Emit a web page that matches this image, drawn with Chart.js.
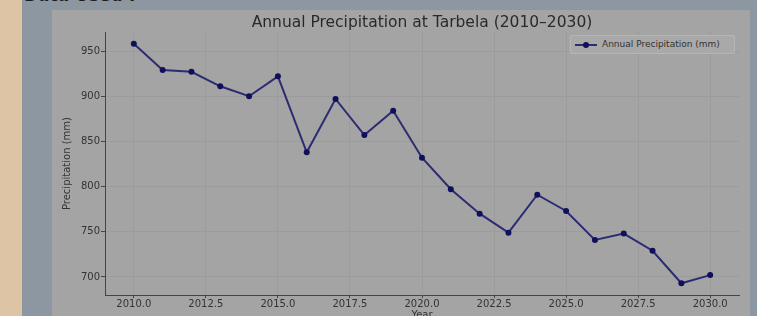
<!DOCTYPE html>
<html>
<head>
<meta charset="utf-8">
<script src="https://cdn.jsdelivr.net/npm/chart.js@4"></script>
<style>
  html, body { margin: 0; padding: 0; }
  body {
    width: 757px; height: 316px; overflow: hidden; position: relative;
    background: #8d97a1; font-family: "DejaVu Sans", sans-serif;
  }
  .beige { position: absolute; left: 0; top: 0; width: 22px; height: 316px; background: #dcc4a5; }
  .cutText { position: absolute; left: 24px; top: -15px; font-size: 17px; font-weight: bold; color: #1c1c1c; }
  .figure { position: absolute; left: 52px; top: 10px; width: 698px; height: 306px; background: #a4a4a4; }
  #wrap { position: absolute; left: 52px; top: 10px; width: 698px; height: 322px; }
  .legend {
    position: absolute; left: 570px; top: 35px; width: 163px; height: 17px;
    background: #a9a9a9; border: 1px solid #b6b6b6; border-radius: 2px;
    font-size: 9px; color: #333; line-height: 17px;
  }
  .legend .sample { position: absolute; left: 4px; top: 8px; width: 22px; height: 2px; background: #2c2c70; }
  .legend .dot { position: absolute; left: 12px; top: 6px; width: 6px; height: 6px; border-radius: 50%; background: #10105a; }
  .legend .label { position: absolute; left: 31px; top: 0; white-space: nowrap; }
</style>
</head>
<body>
<div class="beige"></div>
<div class="cutText">Data Used :</div>
<div class="figure"></div>
<div id="wrap"><canvas id="precipChart" width="698" height="322"></canvas></div>
<div class="legend">
  <div class="sample"></div><div class="dot"></div>
  <div class="label">Annual Precipitation (mm)</div>
</div>
<script>
// datos
const years = [2010, 2011, 2012, 2013, 2014, 2015, 2016, 2017, 2018, 2019, 2020,
  2021, 2022, 2023, 2024, 2025, 2026, 2027, 2028, 2029, 2030];
const precipitation = [958, 929, 927, 911, 900, 922, 838, 897, 857, 884, 832,
  797, 770, 749, 791, 773, 741, 748, 729, 693, 702];
const xTicks = [2010, 2012.5, 2015, 2017.5, 2020, 2022.5, 2025, 2027.5, 2030];
const yTicks = [700, 750, 800, 850, 900, 950];

const textColor = '#333';
const gridColor = 'rgba(150, 150, 150, 0.55)';

const points = years.map((y, i) => ({ x: y, y: precipitation[i] }));

new Chart(document.getElementById('precipChart'), {
  type: 'line',
  data: {
    datasets: [{
      label: 'Annual Precipitation (mm)',
      data: points,
      borderColor: '#2c2c72',
      borderWidth: 2,
      pointRadius: 3,
      pointBackgroundColor: '#10105a',
      pointBorderColor: '#10105a',
      pointBorderWidth: 0,
      tension: 0
    }]
  },
  options: {
    responsive: false,
    animation: false,
    layout: { padding: { left: 0, right: 11, top: 0, bottom: 0 } },
    plugins: {
      legend: { display: false },
      tooltip: { enabled: false },
      title: {
        display: true,
        fullSize: false, // centrado sobre el area del grafico, como matplotlib
        text: 'Annual Precipitation at Tarbela (2010–2030)',
        color: '#2a2a2a',
        font: { family: 'DejaVu Sans', size: 15.5, weight: 'normal' },
        padding: { top: 3.5, bottom: 0 }
      }
    },
    scales: {
      x: {
        type: 'linear',
        min: 2009,
        max: 2031,
        afterBuildTicks: (scale) => { scale.ticks = xTicks.map(v => ({ value: v })); },
        afterFit: (scale) => { scale.height = 37; },
        ticks: {
          color: textColor,
          font: { family: 'DejaVu Sans', size: 10 },
          padding: 0,
          maxRotation: 0,
          callback: (v) => Number(v).toFixed(1)
        },
        grid: { color: gridColor, tickColor: '#444', tickLength: 3 },
        border: { display: true, color: '#444', width: 1 },
        title: {
          display: true,
          text: 'Year',
          color: textColor,
          font: { family: 'DejaVu Sans', size: 10 },
          padding: { top: 0, bottom: 11 }
        }
      },
      y: {
        min: 680,
        max: 971,
        afterBuildTicks: (scale) => { scale.ticks = yTicks.map(v => ({ value: v })); },
        afterFit: (scale) => { scale.width = 53; },
        ticks: {
          color: textColor,
          font: { family: 'DejaVu Sans', size: 10 },
          padding: 1
        },
        grid: { color: gridColor, tickColor: '#444', tickLength: 4 },
        border: { display: true, color: '#444', width: 1 },
        title: {
          display: true,
          text: 'Precipitation (mm)',
          color: textColor,
          font: { family: 'DejaVu Sans', size: 10 },
          padding: { top: 9, bottom: 0 }
        }
      }
    }
  }
});
</script>
</body>
</html>
